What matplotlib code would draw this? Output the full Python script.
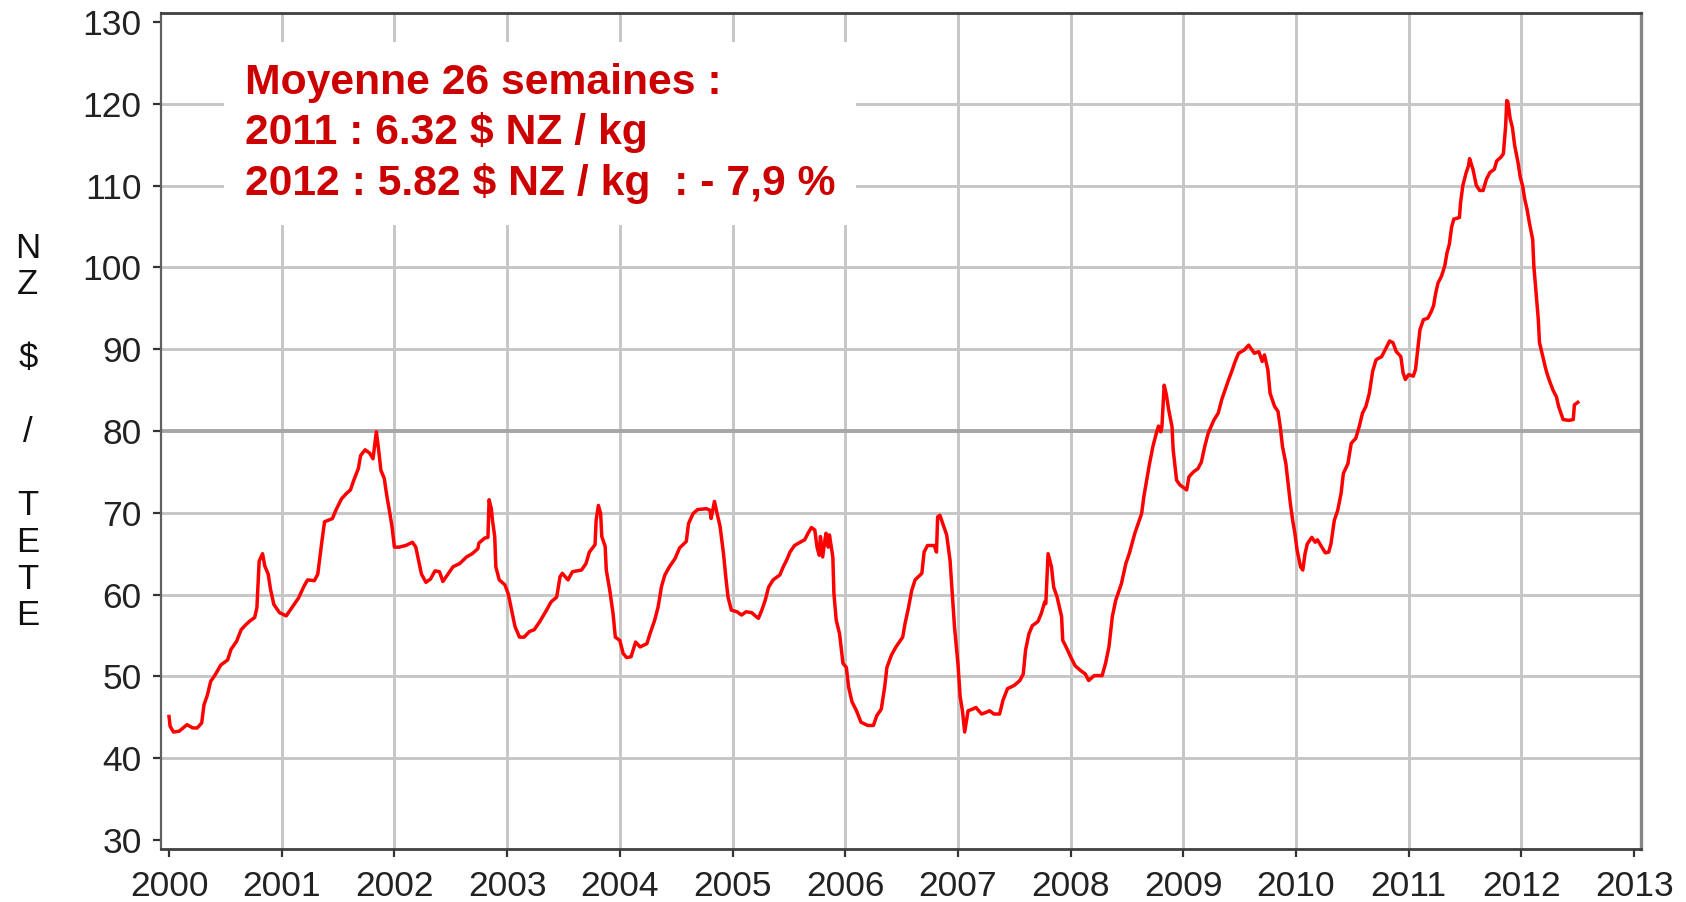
import matplotlib
matplotlib.use("Agg")
import matplotlib.pyplot as plt

# prix hebdomadaire (NZ $ / tete)
annees = [
    2000.00, 2000.01, 2000.04, 2000.09, 2000.16, 2000.21, 2000.25, 2000.29, 2000.31, 2000.34,
    2000.37, 2000.41, 2000.46, 2000.52, 2000.55, 2000.60, 2000.64, 2000.68, 2000.72, 2000.76,
    2000.78, 2000.80, 2000.83, 2000.85, 2000.88, 2000.90, 2000.93, 2000.98, 2001.04, 2001.07,
    2001.11, 2001.15, 2001.20, 2001.23, 2001.29, 2001.32, 2001.35, 2001.38, 2001.45, 2001.48,
    2001.53, 2001.57, 2001.61, 2001.64, 2001.68, 2001.70, 2001.74, 2001.78, 2001.81, 2001.84,
    2001.86, 2001.88, 2001.91, 2001.93, 2001.96, 2001.98, 2002.00, 2002.04, 2002.10, 2002.16,
    2002.19, 2002.24, 2002.28, 2002.32, 2002.36,
    2002.40, 2002.43, 2002.47, 2002.52, 2002.58, 2002.64, 2002.69, 2002.74, 2002.75, 2002.80,
    2002.83, 2002.84, 2002.86, 2002.87, 2002.89, 2002.90, 2002.93, 2002.98, 2003.01, 2003.04,
    2003.07, 2003.11, 2003.15, 2003.20, 2003.24, 2003.29, 2003.35, 2003.39, 2003.44, 2003.47,
    2003.49, 2003.54, 2003.58, 2003.66, 2003.70, 2003.73, 2003.78, 2003.79, 2003.81, 2003.83,
    2003.84, 2003.87, 2003.88, 2003.91, 2003.94, 2003.96, 2004.00, 2004.03, 2004.06, 2004.10,
    2004.14, 2004.18, 2004.24, 2004.27, 2004.31, 2004.34, 2004.37, 2004.40, 2004.44, 2004.49,
    2004.53, 2004.59, 2004.61, 2004.65, 2004.69, 2004.77, 2004.80, 2004.81, 2004.84, 2004.86,
    2004.89, 2004.92, 2004.94, 2004.96, 2004.99, 2005.04, 2005.08, 2005.12, 2005.17, 2005.21,
    2005.23, 2005.26, 2005.29, 2005.32, 2005.36, 2005.42, 2005.45, 2005.48, 2005.51, 2005.55,
    2005.60, 2005.64, 2005.67, 2005.70, 2005.73, 2005.75, 2005.77, 2005.78, 2005.80, 2005.82,
    2005.83, 2005.85, 2005.86, 2005.89, 2005.90, 2005.92, 2005.95, 2005.98, 2006.01, 2006.03,
    2006.06, 2006.10, 2006.14, 2006.20, 2006.25, 2006.28, 2006.32, 2006.35, 2006.37, 2006.41,
    2006.45, 2006.51, 2006.53, 2006.56, 2006.59, 2006.62, 2006.68, 2006.70, 2006.73, 2006.79,
    2006.81, 2006.82, 2006.84, 2006.87, 2006.90, 2006.93, 2006.95, 2006.97, 2007.00, 2007.02,
    2007.04, 2007.06, 2007.09, 2007.13, 2007.16, 2007.21, 2007.25, 2007.28, 2007.32, 2007.37,
    2007.40, 2007.44, 2007.50, 2007.55, 2007.58, 2007.60, 2007.63, 2007.66, 2007.71, 2007.74,
    2007.77,
    2007.78, 2007.80, 2007.83, 2007.85, 2007.88, 2007.92, 2007.93, 2007.96, 2008.00, 2008.04,
    2008.09, 2008.13, 2008.16, 2008.21, 2008.28, 2008.31, 2008.34, 2008.37, 2008.40, 2008.45,
    2008.49, 2008.52, 2008.57, 2008.60, 2008.63, 2008.65, 2008.67, 2008.70, 2008.73, 2008.76,
    2008.78, 2008.80, 2008.81, 2008.83, 2008.85, 2008.87, 2008.90, 2008.91, 2008.94, 2008.97,
    2009.01, 2009.03, 2009.05, 2009.09, 2009.13, 2009.16, 2009.19, 2009.22, 2009.27, 2009.31,
    2009.34, 2009.37, 2009.40, 2009.43, 2009.46, 2009.49, 2009.54, 2009.58, 2009.63, 2009.67,
    2009.70, 2009.72, 2009.75, 2009.77, 2009.81, 2009.84, 2009.86, 2009.88, 2009.91, 2009.93,
    2009.95, 2009.97, 2009.99, 2010.01, 2010.04, 2010.06, 2010.08, 2010.10, 2010.14, 2010.17,
    2010.19, 2010.23, 2010.26, 2010.29, 2010.31, 2010.34, 2010.37, 2010.40, 2010.42, 2010.46,
    2010.49, 2010.53, 2010.56, 2010.59, 2010.62, 2010.65, 2010.68, 2010.71, 2010.76, 2010.79,
    2010.83, 2010.86, 2010.89, 2010.93, 2010.95, 2010.97, 2011.00, 2011.04, 2011.06, 2011.08,
    2011.10, 2011.13, 2011.17, 2011.20, 2011.22, 2011.24, 2011.26, 2011.29, 2011.32, 2011.34,
    2011.36, 2011.38, 2011.40, 2011.45, 2011.46, 2011.48, 2011.51, 2011.53, 2011.54, 2011.57,
    2011.60, 2011.63, 2011.66, 2011.69, 2011.72, 2011.76, 2011.78, 2011.82, 2011.84, 2011.86,
    2011.87, 2011.88, 2011.90, 2011.92, 2011.94, 2011.97, 2011.99, 2012.01, 2012.03, 2012.05,
    2012.07, 2012.10, 2012.11, 2012.13, 2012.15, 2012.16, 2012.19, 2012.21, 2012.23, 2012.25,
    2012.28, 2012.31, 2012.33, 2012.35, 2012.37, 2012.42, 2012.46, 2012.47, 2012.50,
]
prix = [
    45.1, 43.9, 43.2, 43.3, 44.1, 43.7, 43.7, 44.3, 46.5, 47.7,
    49.4, 50.2, 51.4, 52.0, 53.3, 54.3, 55.7, 56.3, 56.8, 57.2,
    58.4, 64.1, 65.0, 63.5, 62.5, 60.7, 58.8, 57.8, 57.4, 58.0,
    58.8, 59.6, 61.1, 61.8, 61.7, 62.5, 65.8, 68.9, 69.3, 70.3,
    71.7, 72.3, 72.8, 74.0, 75.4, 77.0, 77.7, 77.3, 76.6, 79.9,
    77.7, 75.2, 74.2, 72.3, 69.9, 68.2, 65.8, 65.8, 66.0, 66.4,
    65.8, 62.5, 61.5, 61.9, 62.9,
    62.8, 61.6, 62.4, 63.4, 63.8, 64.6, 65.0, 65.6, 66.3, 66.9,
    67.0, 71.6, 70.5, 69.1, 67.1, 63.4, 61.8, 61.2, 60.1, 58.1,
    56.1, 54.8, 54.8, 55.5, 55.7, 56.7, 58.1, 59.1, 59.7, 62.2,
    62.6, 61.8, 62.8, 63.0, 63.8, 65.2, 66.1, 69.1, 70.9, 69.9,
    67.1, 65.9, 63.0, 60.6, 57.7, 54.8, 54.4, 52.8, 52.3, 52.4,
    54.2, 53.6, 54.0, 55.3, 56.9, 58.5, 61.0, 62.4, 63.4, 64.4,
    65.7, 66.5, 68.7, 69.9, 70.4, 70.5, 70.3, 69.3, 71.4, 70.1,
    68.3, 65.0, 62.2, 59.7, 58.1, 57.9, 57.5, 57.9, 57.8, 57.3,
    57.1, 58.1, 59.3, 60.9, 61.8, 62.4, 63.4, 64.2, 65.2, 66.0,
    66.4, 66.7, 67.5, 68.2, 67.9, 65.8, 64.8, 67.1, 64.6, 66.7,
    67.5, 65.8, 67.3, 64.6, 60.1, 56.9, 55.2, 51.6, 51.1, 48.7,
    46.9, 45.8, 44.4, 44.0, 44.0, 45.2, 46.0, 48.7, 51.1, 52.6,
    53.6, 54.8, 56.4, 58.3, 60.5, 61.8, 62.6, 65.2, 66.0, 66.0,
    65.2, 69.5, 69.7, 68.5, 67.3, 64.2, 60.1, 56.0, 51.6, 47.5,
    45.8, 43.2, 45.8, 46.0, 46.2, 45.4, 45.6, 45.8, 45.4, 45.4,
    47.1, 48.5, 48.9, 49.5, 50.3, 53.2, 55.2, 56.2, 56.7, 57.7,
    59.1,
    58.9, 65.0, 63.4, 60.9, 59.7, 57.3, 54.4, 53.6, 52.4, 51.3,
    50.7, 50.3, 49.5, 50.1, 50.1, 51.6, 53.6, 57.3, 59.3, 61.3,
    63.8, 65.0, 67.5, 68.7, 69.9, 72.0, 73.6, 76.0, 78.1, 79.7,
    80.6, 79.9, 80.5, 85.6, 84.4, 82.6, 80.5, 77.7, 74.0, 73.4,
    73.0, 72.8, 74.4, 75.0, 75.4, 76.2, 78.1, 79.7, 81.3, 82.2,
    83.8, 85.0, 86.2, 87.3, 88.5, 89.5, 89.9, 90.5, 89.5, 89.7,
    88.5, 89.3, 87.5, 84.6, 83.0, 82.4, 80.5, 78.1, 76.0, 73.6,
    71.1, 69.1, 67.5, 65.4, 63.4, 63.0, 65.0, 66.2, 67.0, 66.4,
    66.7, 65.8, 65.1, 65.2, 66.2, 69.1, 70.3, 72.4, 74.8, 76.0,
    78.5, 79.1, 80.5, 82.2, 83.0, 84.6, 87.3, 88.7, 89.1, 89.9,
    91.0, 90.8, 89.7, 89.1, 87.1, 86.3, 86.9, 86.7, 87.5, 89.9,
    92.4, 93.6, 93.8, 94.6, 95.3, 96.9, 98.1, 98.9, 100.2, 101.8,
    102.8, 104.9, 105.9, 106.1, 107.9, 110.0, 111.6, 112.4, 113.3, 112.0,
    110.0, 109.4, 109.4, 110.8, 111.6, 112.0, 113.0, 113.5, 113.9, 117.3,
    120.4, 120.2, 118.2, 117.1, 114.9, 112.8, 111.0, 110.0, 108.3, 107.1,
    105.5, 103.4, 100.2, 96.9, 93.6, 90.8, 89.1, 87.9, 86.9, 86.1,
    85.0, 84.2, 83.0, 82.2, 81.4, 81.3, 81.4, 83.2, 83.5,
]

ticks_x = list(range(2000, 2014))
ticks_y = list(range(30, 131, 10))
lettres_y = ["N", "Z", "", "$", "", "/", "", "T", "E", "T", "E"]
texte = [
    "Moyenne 26 semaines :",
    "2011 : 6.32 $ NZ / kg",
    "2012 : 5.82 $ NZ / kg  : - 7,9 %",
]

plt.rcParams['font.family'] = ['Liberation Sans', 'DejaVu Sans']

fig = plt.figure(figsize=(16.86, 9.02), dpi=100)
ax = fig.add_axes([161 / 1686, 1 - 849 / 902, 1480 / 1686, 836 / 902])

ax.set_xlim(1999.929, 2013.061)
ax.set_ylim(28.9, 131.1)

# grille (pas sur 2000/2013 ni 30/130)
for x in ticks_x[1:-1]:
    ax.axvline(x, color='#c6c6c6', lw=2.1, zorder=1)
for y in ticks_y[1:-1]:
    if y == 80:
        ax.axhline(y, color='#a6a6a6', lw=2.8, zorder=1)
    else:
        ax.axhline(y, color='#c6c6c6', lw=2.1, zorder=1)

ax.plot(annees, prix, color='#ff0000', lw=2.5, zorder=4)

ax.set_xticks(ticks_x)
ax.set_xticklabels([str(t) for t in ticks_x])
ax.set_yticks(ticks_y)
ax.set_yticklabels([str(t) for t in ticks_y])
ax.tick_params(axis='both', direction='out', length=6, width=1.6, color='#333333',
               labelsize=25.5, labelcolor='#222222')
ax.tick_params(axis='x', pad=9)
ax.tick_params(axis='y', pad=8)

ax.spines['left'].set_color('#606060')
ax.spines['left'].set_linewidth(1.6)
ax.spines['bottom'].set_color('#404040')
ax.spines['bottom'].set_linewidth(2.0)
ax.spines['top'].set_color('#404040')
ax.spines['top'].set_linewidth(2.0)
ax.spines['right'].set_color('#858585')
ax.spines['right'].set_linewidth(2.4)

fig.text(28 / 1686, 1 - 432 / 902, "\n".join(lettres_y), fontsize=25, color='#111111',
         ha='center', va='center', linespacing=1.146, parse_math=False)

ax.text(2000.674, 125.0, "\n".join(texte), color='#cc0000', fontsize=30.7,
        fontweight='bold', ha='left', va='top', linespacing=1.3, parse_math=False,
        bbox=dict(boxstyle='square,pad=0.48', fc='white', ec='none'), zorder=3)

fig.savefig('out.png', dpi=100)
